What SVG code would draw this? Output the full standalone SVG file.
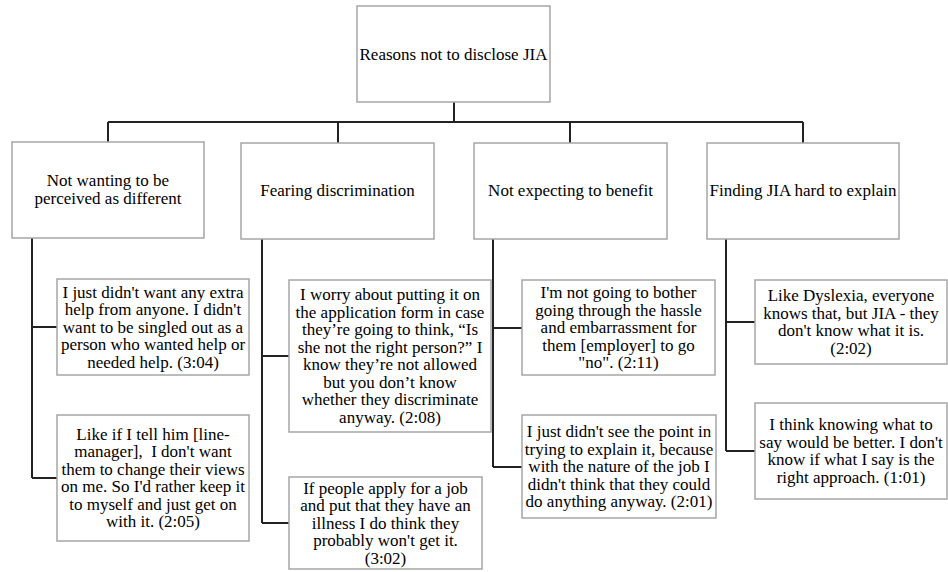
<svg xmlns="http://www.w3.org/2000/svg" width="948" height="572" viewBox="0 0 948 572">
<style>
.box{fill:#fff;stroke:#a6a6a6;stroke-width:1.5}
.t{font-size:17px;fill:#000;text-anchor:middle}
.c{fill:none;stroke:#222;stroke-width:2}
</style>
<rect width="948" height="572" fill="#fff"/>
<g id="connectors">
<path class="c" d="M454 102V122M108 122H803M108 122V142M338 122V143M570 122V143M803 122V143"/>
<path class="c" d="M32 238V478M32 327H57M32 478H57"/>
<path class="c" d="M262 239V523M262 356H289M262 523H289"/>
<path class="c" d="M493 239V467M493 328H522M493 467H522"/>
<path class="c" d="M726 239V451M726 322H755M726 451H755"/>
</g>
<g font-family="Liberation Serif, DejaVu Serif, serif">
<g id="root"><rect class="box" x="357" y="6" width="193" height="96"/><text class="t" x="453.5" y="60">Reasons not to disclose JIA</text></g>
<g id="cat1"><rect class="box" x="12" y="142" width="192" height="96"/><text class="t" x="108" y="186"><tspan x="108">Not wanting to be</tspan><tspan x="108" dy="17.5">perceived as different</tspan></text></g>
<g id="cat2"><rect class="box" x="241" y="143" width="193" height="96"/><text class="t" x="337.5" y="196">Fearing discrimination</text></g>
<g id="cat3"><rect class="box" x="474" y="143" width="193" height="96"/><text class="t" x="570.5" y="196">Not expecting to benefit</text></g>
<g id="cat4"><rect class="box" x="707" y="143" width="192" height="96"/><text class="t" x="803" y="196">Finding JIA hard to explain</text></g>
<g id="q1a"><rect class="box" x="57" y="279" width="192" height="96"/><text class="t" y="297.5"><tspan x="153">I just didn't want any extra</tspan><tspan x="153" dy="17.5">help from anyone. I didn't</tspan><tspan x="153" dy="17.5">want to be singled out as a</tspan><tspan x="153" dy="17.5">person who wanted help or</tspan><tspan x="153" dy="17.5">needed help. (3:04)</tspan></text></g>
<g id="q1b"><rect class="box" x="57" y="415" width="192" height="126"/><text class="t" y="439.75" xml:space="preserve"><tspan x="153">Like if I tell him [line-</tspan><tspan x="153" dy="17.5">manager],  I don't want</tspan><tspan x="153" dy="17.5">them to change their views</tspan><tspan x="153" dy="17.5">on me. So I'd rather keep it</tspan><tspan x="153" dy="17.5">to myself and just get on</tspan><tspan x="153" dy="17.5">with it. (2:05)</tspan></text></g>
<g id="q2a"><rect class="box" x="289" y="280" width="202" height="152"/><text class="t" y="300.25"><tspan x="390">I worry about putting it on</tspan><tspan x="390" dy="17.5">the application form in case</tspan><tspan x="390" dy="17.5">they’re going to think, “Is</tspan><tspan x="390" dy="17.5">she not the right person?” I</tspan><tspan x="390" dy="17.5">know they’re not allowed</tspan><tspan x="390" dy="17.5">but you don’t know</tspan><tspan x="390" dy="17.5">whether they discriminate</tspan><tspan x="390" dy="17.5">anyway. (2:08)</tspan></text></g>
<g id="q2b"><rect class="box" x="289" y="477" width="193" height="92"/><text class="t" y="493.5"><tspan x="385.5">If people apply for a job</tspan><tspan x="385.5" dy="17.5">and put that they have an</tspan><tspan x="385.5" dy="17.5">illness I do think they</tspan><tspan x="385.5" dy="17.5">probably won't get it.</tspan><tspan x="385.5" dy="17.5">(3:02)</tspan></text></g>
<g id="q3a"><rect class="box" x="522" y="280" width="193" height="95"/><text class="t" y="298"><tspan x="618.5">I'm not going to bother</tspan><tspan x="618.5" dy="17.5">going through the hassle</tspan><tspan x="618.5" dy="17.5">and embarrassment for</tspan><tspan x="618.5" dy="17.5">them [employer] to go</tspan><tspan x="618.5" dy="17.5">"no". (2:11)</tspan></text></g>
<g id="q3b"><rect class="box" x="522" y="415" width="194" height="103"/><text class="t" y="437"><tspan x="619">I just didn't see the point in</tspan><tspan x="619" dy="17.5">trying to explain it, because</tspan><tspan x="619" dy="17.5">with the nature of the job I</tspan><tspan x="619" dy="17.5">didn't think that they could</tspan><tspan x="619" dy="17.5">do anything anyway. (2:01)</tspan></text></g>
<g id="q4a"><rect class="box" x="755" y="280" width="192" height="84"/><text class="t" y="301.25"><tspan x="851">Like Dyslexia, everyone</tspan><tspan x="851" dy="17.5">knows that, but JIA - they</tspan><tspan x="851" dy="17.5">don't know what it is.</tspan><tspan x="851" dy="17.5">(2:02)</tspan></text></g>
<g id="q4b"><rect class="box" x="755" y="403" width="192" height="96"/><text class="t" y="430.25"><tspan x="851">I think knowing what to</tspan><tspan x="851" dy="17.5">say would be better. I don't</tspan><tspan x="851" dy="17.5">know if what I say is the</tspan><tspan x="851" dy="17.5">right approach. (1:01)</tspan></text></g>
</g>
</svg>
